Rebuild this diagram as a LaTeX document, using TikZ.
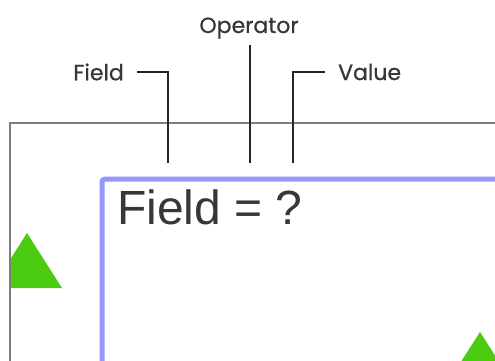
\documentclass[tikz,border=0pt]{standalone}
\usepackage{fontspec}
\setmainfont{Liberation Sans}
\newfontfamily\lblfont[FakeBold=0.6]{Poppins}
\definecolor{frame}{RGB}{125,125,125}
\definecolor{bluebox}{RGB}{150,150,255}
\definecolor{greentri}{RGB}{76,204,16}
\definecolor{ink}{RGB}{55,55,55}
\tikzset{
  lbl/.style={inner sep=0pt, font=\lblfont\fontsize{22}{26}\selectfont, text=ink},
  leader/.style={line width=1.7pt, black!85},
  bigtext/.style={inner sep=0pt, anchor=base west, font=\fontsize{48}{52}\selectfont, text=ink},
}
\begin{document}
\begin{tikzpicture}[x=1pt,y=-1pt]
\useasboundingbox (0,0) rectangle (495,361);
\fill[white] (0,0) rectangle (495,361);
\clip (0,0) rectangle (495,361);
% outer gray window
\draw[frame, line width=1.8pt] (10,123) rectangle (520,420);
% green triangles
\begin{scope}
\clip (11,124) rectangle (495,361);
\fill[greentri] (-8,288) -- (27,233) -- (62,288) -- cycle;
\end{scope}
\fill[greentri] (443,390) -- (480,332) -- (517,390) -- cycle;
% blue box
\draw[bluebox, line width=5pt, rounded corners=3pt] (102,179) rectangle (530,420);
% big text
\node[bigtext] (expr) at (117,224) {Field = ?};
% labels
\node[lbl, anchor=east] (field) at (124,72) {Field};
\node[lbl, anchor=base] (operator) at (249,33) {Operator};
\node[lbl, anchor=west] (value) at (338,72) {Value};
\coordinate (fe) at (168,163);
\coordinate (oe) at (250,163);
\coordinate (ve) at (293,163);
\draw[leader] ([xshift=13pt]field.east) -| (fe);
\draw[leader] (oe |- 0,45) -- (oe);
\draw[leader] ([xshift=-13pt]value.west) -| (ve);
\end{tikzpicture}
\end{document}
